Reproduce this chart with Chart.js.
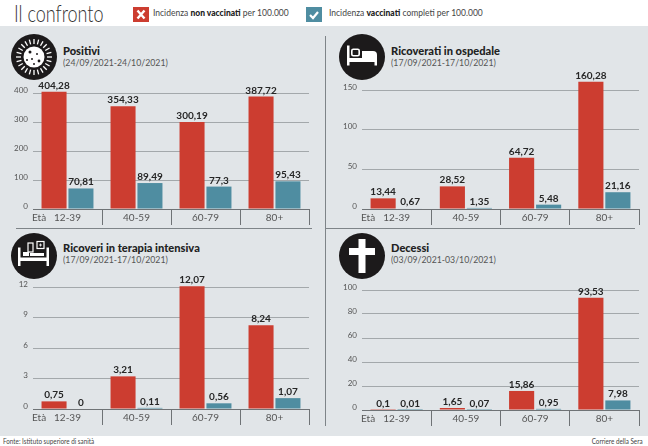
<!DOCTYPE html>
<html>
<head>
<meta charset="utf-8">
<script src="https://cdn.jsdelivr.net/npm/chart.js@4"></script>
<style>
  html, body { margin: 0; padding: 0; background: #fff; }
  body { width: 648px; height: 446px; position: relative; overflow: hidden; font-family: Lato, sans-serif; color: #2b2b2b; }
  canvas { position: absolute; }
  .abs { position: absolute; white-space: nowrap; }
  #sfondo { position: absolute; left: 0; top: 26px; width: 648px; height: 410px; background: #e1e5e8; }
  #titolo { left: 14px; top: -2px; font-size: 24px; line-height: 30px; font-weight: 300; color: #333; transform: scaleX(.75); transform-origin: left top; }
  .leg { top: 7px; font-size: 8.5px; color: #444; line-height: 13px; }
  .leg b { color: #222; font-weight: 900; }
  .box { top: 7px; width: 16px; height: 15px; }
  .nome { font-size: 11.1px; font-weight: 900; color: #222; }
  .date { font-size: 9.5px; color: #555; transform: scaleX(.92); transform-origin: left top; }
  .linea { position: absolute; background: #7e8488; }
  .nota { font-size: 7px; color: #444; top: 437px; transform: scaleX(.9); }
  svg.icona { position: absolute; }
</style>
</head>
<body>
<div id="sfondo"></div>
<div class="abs" id="titolo">Il confronto</div>

<svg class="abs box" style="left:133px" viewBox="0 0 16 15"><rect width="16" height="15" fill="#cc3d30"/><path d="M4.5 3.5l7 8M11.5 3.5l-7 8" stroke="#fff" stroke-width="2.4"/></svg>
<div class="abs leg" style="left:153px">Incidenza <b>non vaccinati</b> per 100.000</div>
<svg class="abs box" style="left:306px" viewBox="0 0 16 15"><rect width="16" height="15" fill="#4f8da1"/><path d="M4 8l3 3 5-6" stroke="#fff" stroke-width="2.2" fill="none"/></svg>
<div class="abs leg" style="left:329px">Incidenza <b>vaccinati</b> completi per 100.000</div>

<div class="linea" style="left:16px;top:228px;width:296px;height:1px"></div>
<div class="linea" style="left:325px;top:228px;width:310px;height:1px"></div>
<div class="linea" style="left:325px;top:36px;width:1px;height:390px"></div>

<div class="abs nome" style="left:63px;top:44px">Positivi</div>
<div class="abs date" style="left:63px;top:57px">(24/09/2021-24/10/2021)</div>
<div class="abs nome" style="left:391px;top:44px">Ricoverati in ospedale</div>
<div class="abs date" style="left:391px;top:57px">(17/09/2021-17/10/2021)</div>
<div class="abs nome" style="left:63px;top:241px">Ricoveri in terapia intensiva</div>
<div class="abs date" style="left:63px;top:254px">(17/09/2021-17/10/2021)</div>
<div class="abs nome" style="left:391px;top:241px">Decessi</div>
<div class="abs date" style="left:391px;top:254px">(03/09/2021-03/10/2021)</div>

<svg class="icona" style="left:11px;top:34px" width="46" height="46" viewBox="-23 -23 46 46">
  <circle r="23" fill="#1c1a1b"/>
  <g id="spine" stroke="#fff" stroke-width="1.3"></g>
  <circle r="10.5" fill="#fff"/>
  <g fill="#1c1a1b"><circle cx="-4" cy="-5" r="1.5"/><circle cx="3" cy="-3" r="1"/><circle cx="-2" cy="2" r="1"/><circle cx="5" cy="4" r="1.4"/><circle cx="0" cy="7" r="1"/><circle cx="-7" cy="3" r="1"/></g>
</svg>
<svg class="icona" style="left:339px;top:34px" width="46" height="46" viewBox="-23 -23 46 46">
  <circle r="23" fill="#1c1a1b"/>
  <path d="M-15-11.5h2.5V1h25v0h2.5v7.5h-2.5V5h-25v3.5H-15z" fill="#fff"/>
  <rect x="-10.2" y="-7.7" width="7.4" height="6.4" rx="1.5" fill="none" stroke="#fff" stroke-width="1.6"/>
  <path d="M0-6h11q4 0 4 4v3H0z" fill="#fff"/>
</svg>
<svg class="icona" style="left:11px;top:233px" width="46" height="46" viewBox="-23 -23 46 46">
  <circle r="23" fill="#1c1a1b"/>
  <path d="M-16-8.5h2.5v10h26v-10H15V10h-2.5V5h-26v5H-16z" fill="#fff"/>
  <rect x="-6" y="-13" width="5" height="9" fill="none" stroke="#fff" stroke-width="1.2"/>
  <rect x="3" y="-14.5" width="7" height="7" fill="none" stroke="#fff" stroke-width="1.2"/>
  <path d="M5-11h3M6.500-12.500v3" stroke="#fff" stroke-width=".8"/>
  <rect x="-11" y="-4" width="6" height="4" fill="#fff"/>
  <path d="M-4 0V-3h14v3z" fill="#fff"/>
</svg>
<svg class="icona" style="left:339px;top:233px" width="46" height="46" viewBox="-23 -23 46 46">
  <circle r="23" fill="#1c1a1b"/>
  <path d="M-3.5-17h7v9H13v7H3.500v18h-7V-1H-13v-7h9.500z" fill="#fff"/>
</svg>

<canvas id="grafico1"></canvas>
<canvas id="grafico2"></canvas>
<canvas id="grafico3"></canvas>
<canvas id="grafico4"></canvas>

<div class="abs nota" style="left:3px;transform-origin:left top">Fonte: Istituto superiore di sanità</div>
<div class="abs nota" style="right:5px;transform-origin:right top">Corriere della Sera</div>

<script>
// Dati
const fasceEta = ['12-39', '40-59', '60-79', '80+'];

const positiviNonVaccinati = [404.28, 354.33, 300.19, 387.72];
const positiviVaccinati = [70.81, 89.49, 77.3, 95.43];
const positiviTicks = [0, 100, 200, 300, 400];

const ospedaleNonVaccinati = [13.44, 28.52, 64.72, 160.28];
const ospedaleVaccinati = [0.67, 1.35, 5.48, 21.16];
const ospedaleTicks = [0, 50, 100, 150];

const intensivaNonVaccinati = [0.75, 3.21, 12.07, 8.24];
const intensivaVaccinati = [0, 0.11, 0.56, 1.07];
const intensivaTicks = [0, 3, 6, 9, 12];

const decessiNonVaccinati = [0.1, 1.65, 15.86, 93.53];
const decessiVaccinati = [0.01, 0.07, 0.95, 7.98];
const decessiTicks = [0, 20, 40, 60, 80, 100];

const ROSSO = '#cc3d30';
const BLU = '#4f8da1';

// Valori sopra le barre, con la virgola
const etichette = {
    id: 'etichette',
    afterDatasetsDraw(chart) {
        const ctx = chart.ctx;
        ctx.save();
        ctx.font = '700 10px Lato';
        ctx.fillStyle = '#262626';
        ctx.textAlign = 'center';
        ctx.textBaseline = 'alphabetic';
        chart.data.datasets.forEach((ds, i) => {
            chart.getDatasetMeta(i).data.forEach((bar, j) => {
                ctx.fillText(String(ds.data[j]).replace('.', ','), bar.x, bar.y - 3);
            });
        });
        ctx.font = '10px Lato';
        ctx.fillStyle = '#555';
        ctx.textAlign = 'left';
        ctx.fillText('Età', chart.chartArea.left - 1, chart.chartArea.bottom + 12);
        ctx.restore();
    }
};

function creaGrafico(id, rossi, blu, ticks, box) {
    const canvas = document.getElementById(id);
    canvas.style.left = box.left + 'px';
    canvas.style.top = box.top + 'px';
    canvas.style.width = '324px';
    canvas.style.height = (box.zero + 20 - box.top) + 'px';
    canvas.width = 324;
    canvas.height = box.zero + 20 - box.top;

    return new Chart(canvas, {
        type: 'bar',
        data: {
            labels: fasceEta,
            datasets: [
                { data: rossi, backgroundColor: ROSSO, clip: false },
                { data: blu, backgroundColor: BLU, clip: false }
            ]
        },
        options: {
            responsive: false,
            animation: false,
            categoryPercentage: 0.78,
            barPercentage: 0.93,
            layout: { padding: { top: box.plotTop - box.top, right: box.paddingRight, left: 0, bottom: 0 } },
            plugins: { legend: { display: false }, tooltip: { enabled: false } },
            scales: {
                x: {
                    afterFit: s => { s.height = 20; },
                    border: { color: '#6f7376', width: 1 },
                    grid: {
                        offset: true,
                        drawOnChartArea: false,
                        tickLength: 16,
                        tickColor: c => (c.index === 0 || c.index === fasceEta.length) ? 'transparent' : '#6f7376'
                    },
                    ticks: { padding: -13, color: '#555', font: { family: 'Lato', size: 10 }, maxRotation: 0 }
                },
                y: {
                    min: 0,
                    max: ticks[ticks.length - 1],
                    afterFit: s => { s.width = box.axisWidth; },
                    afterBuildTicks: s => { s.ticks = ticks.map(v => ({ value: v })); },
                    border: { display: false },
                    grid: { drawTicks: false, color: '#a3a8ab', lineWidth: 1 },
                    ticks: { padding: 5, labelOffset: -3, color: '#555', font: { family: 'Lato', size: 8 } }
                }
            }
        },
        plugins: [etichette]
    });
}

// Aculei del virus
const spine = document.getElementById('spine');
for (let a = 0; a < 24; a++) {
    const r = a * Math.PI / 12;
    const l = document.createElementNS('http://www.w3.org/2000/svg', 'line');
    l.setAttribute('x1', 13 * Math.cos(r));
    l.setAttribute('y1', 13 * Math.sin(r));
    l.setAttribute('x2', 18 * Math.cos(r));
    l.setAttribute('y2', 18 * Math.sin(r));
    spine.appendChild(l);
}

creaGrafico('grafico1', positiviNonVaccinati, positiviVaccinati, positiviTicks,
    { left: 0, top: 70, plotTop: 93, zero: 209, axisWidth: 33, paddingRight: 15 });
creaGrafico('grafico2', ospedaleNonVaccinati, ospedaleVaccinati, ospedaleTicks,
    { left: 324, top: 66, plotTop: 90, zero: 209, axisWidth: 38, paddingRight: 9 });
creaGrafico('grafico3', intensivaNonVaccinati, intensivaVaccinati, intensivaTicks,
    { left: 0, top: 268, plotTop: 287, zero: 409, axisWidth: 33, paddingRight: 15 });
creaGrafico('grafico4', decessiNonVaccinati, decessiVaccinati, decessiTicks,
    { left: 324, top: 268, plotTop: 290, zero: 410, axisWidth: 38, paddingRight: 9 });
</script>
</body>
</html>
